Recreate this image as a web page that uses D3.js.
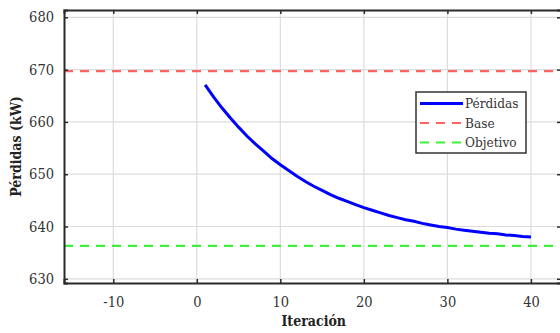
<!DOCTYPE html>
<html>
<head>
<meta charset="utf-8">
<script src="https://cdn.jsdelivr.net/npm/d3@7"></script>
<style>
  body { margin: 0; background: #fff; }
</style>
</head>
<body>
<div class="chart"></div>
<script>
// chart data
var iterations = d3.range(1, 41);
var perdidas = [667.1, 664.8, 662.7, 660.8, 659.0, 657.3, 655.8, 654.4, 653.0, 651.8,
                650.7, 649.6, 648.6, 647.7, 646.9, 646.1, 645.4, 644.8, 644.2, 643.6,
                643.1, 642.6, 642.1, 641.7, 641.3, 641.0, 640.6, 640.3, 640.0, 639.8,
                639.5, 639.3, 639.1, 638.9, 638.7, 638.6, 638.4, 638.3, 638.1, 638.0];
var baseValue = 669.7;
var objetivoValue = 636.3;
var xTicks = [-10, 0, 10, 20, 30, 40];
var yTicks = [630, 640, 650, 660, 670, 680];
var legendLabels = ["Pérdidas", "Base", "Objetivo"];

var FONT = "'DejaVu Serif Condensed', 'DejaVu Serif', serif";

var svgWidth = 560, svgHeight = 333;
var margin = { top: 10, right: -1, bottom: 50, left: 64 };
var width = svgWidth - margin.left - margin.right;
var height = svgHeight - margin.top - margin.bottom;

var svg = d3.select(".chart")
    .append("svg")
    .attr("width", svgWidth)
    .attr("height", svgHeight)
    .style("font-family", FONT);

var chartGroup = svg.append("g")
    .attr("transform", `translate(${margin.left}, ${margin.top})`);

var xScale = d3.scaleLinear()
    .domain([-15.9, 43.6])
    .range([0, width]);

var yScale = d3.scaleLinear()
    .domain([629.2, 681.4])
    .range([height, 0]);

// grid
chartGroup.append("g")
    .selectAll("line")
    .data(xTicks)
    .enter()
    .append("line")
    .attr("x1", d => xScale(d)).attr("x2", d => xScale(d))
    .attr("y1", 0).attr("y2", height)
    .attr("stroke", "#dcdcdc").attr("stroke-width", 1.2);

chartGroup.append("g")
    .selectAll("line")
    .data(yTicks)
    .enter()
    .append("line")
    .attr("y1", d => yScale(d)).attr("y2", d => yScale(d))
    .attr("x1", 0).attr("x2", width)
    .attr("stroke", "#dcdcdc").attr("stroke-width", 1.2);

// reference lines
chartGroup.append("line")
    .attr("x1", 0).attr("x2", width)
    .attr("y1", yScale(baseValue)).attr("y2", yScale(baseValue))
    .attr("stroke", "#ff6464").attr("stroke-width", 2.2)
    .attr("stroke-dasharray", "9,7");

chartGroup.append("line")
    .attr("x1", 0).attr("x2", width)
    .attr("y1", yScale(objetivoValue)).attr("y2", yScale(objetivoValue))
    .attr("stroke", "#3cf03c").attr("stroke-width", 2.2)
    .attr("stroke-dasharray", "9,7");

// main curve
var line = d3.line()
    .x((d, i) => xScale(iterations[i]))
    .y(d => yScale(d));

chartGroup.append("path")
    .datum(perdidas)
    .attr("d", line)
    .attr("fill", "none")
    .attr("stroke", "#0000ff")
    .attr("stroke-width", 3);

// axes (ticks pointing inward)
var bottomAxis = d3.axisBottom(xScale).tickValues(xTicks).tickSize(-4).tickPadding(14)
    .tickFormat(d => String(d));
var leftAxis = d3.axisLeft(yScale).tickValues(yTicks).tickSize(-4).tickPadding(10);
var topAxis = d3.axisTop(xScale).tickValues(xTicks).tickSize(-4).tickFormat("");
var rightAxis = d3.axisRight(yScale).tickValues(yTicks).tickSize(-4).tickFormat("");

function styleAxis(g) {
    g.attr("font-family", null).attr("font-size", null);
    g.select(".domain").attr("stroke", "#2a2a2a").attr("stroke-width", 2);
    g.selectAll(".tick line").attr("stroke", "#2a2a2a").attr("stroke-width", 1.5);
    g.selectAll(".tick text")
        .attr("fill", "#333")
        .style("font-family", FONT)
        .style("font-size", "14.5px");
}

chartGroup.append("g")
    .attr("transform", `translate(0, ${height})`)
    .call(bottomAxis).call(styleAxis);

chartGroup.append("g")
    .call(leftAxis).call(styleAxis);

chartGroup.append("g")
    .call(topAxis).call(styleAxis);

chartGroup.append("g")
    .attr("transform", `translate(${width}, 0)`)
    .call(rightAxis).call(styleAxis);

// axis labels
svg.append("text")
    .attr("transform", `translate(16, ${margin.top + height / 2}) rotate(-90)`)
    .attr("text-anchor", "middle")
    .attr("dy", "0.35em")
    .style("font-family", FONT)
    .style("font-size", "14px")
    .style("font-weight", "bold")
    .attr("fill", "#222")
    .text("Pérdidas (kW)");

svg.append("text")
    .attr("x", margin.left + xScale(14))
    .attr("y", 326)
    .attr("text-anchor", "middle")
    .style("font-family", FONT)
    .style("font-size", "14px")
    .style("font-weight", "bold")
    .attr("fill", "#222")
    .text("Iteración");

// legend
var legend = svg.append("g").attr("transform", "translate(416, 92)");
legend.append("rect")
    .attr("width", 110).attr("height", 61)
    .attr("fill", "#fff")
    .attr("stroke", "#333").attr("stroke-width", 1.5);

var legendColors = ["#0000ff", "#ff6464", "#3cf03c"];
var legendDash = [null, "9,7", "9,7"];
var legendWidths = [3, 2.2, 2.2];

var rows = legend.selectAll(".row")
    .data(legendLabels)
    .enter()
    .append("g")
    .attr("transform", (d, i) => `translate(0, ${11.5 + i * 19.5})`);

rows.append("line")
    .attr("x1", 4).attr("x2", 47)
    .attr("stroke", (d, i) => legendColors[i])
    .attr("stroke-width", (d, i) => legendWidths[i])
    .attr("stroke-dasharray", (d, i) => legendDash[i]);

rows.append("text")
    .attr("x", 49)
    .attr("dy", "0.35em")
    .style("font-family", FONT)
    .style("font-size", "13.5px")
    .attr("fill", "#333")
    .text(d => d);
</script>
</body>
</html>
